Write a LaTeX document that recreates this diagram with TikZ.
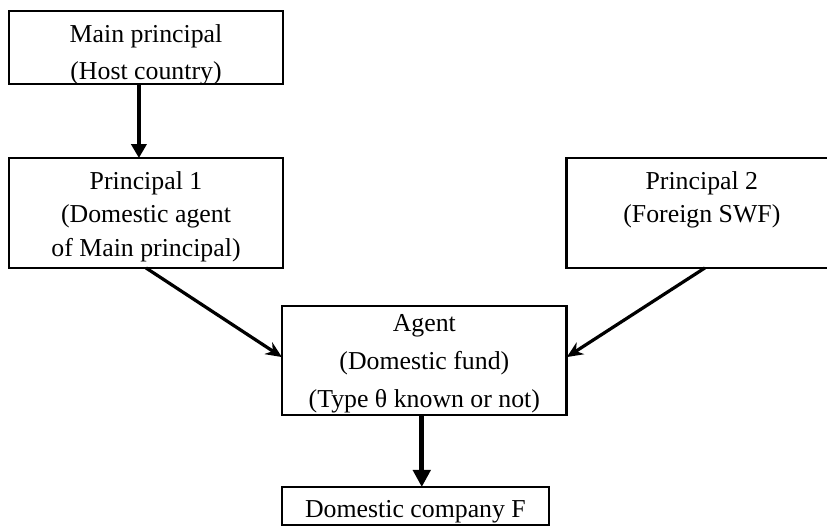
\documentclass[tikz,border=0pt]{standalone}
\usepackage{fontspec}
\setmainfont{Liberation Serif}
\usetikzlibrary{positioning,arrows.meta}
\begin{document}
\begin{tikzpicture}[line width=1.5pt,
            box/.style={draw,line width=1.3pt,inner sep=0pt,outer sep=0pt,align=center,
              font=\fontsize{12}{15.8}\selectfont},
            wide/.style={font=\fontsize{12}{17.5}\selectfont}]

        % Define vertices
        \node[box,wide,minimum width=127.4pt,text height=32.1pt,text depth=1.9pt] (main) {Main principal\\(Host country)};
        \node[box,minimum width=127.4pt,text height=46pt,text depth=5.1pt] (p1) [below=34.4pt of main] {Principal 1\\(Domestic agent\\of Main principal)};
        \node[box,minimum width=125.6pt,text height=30.2pt,text depth=20.9pt] (p2) [right=132pt of p1] {Principal 2\\(Foreign SWF)};
        \node[box,wide,minimum width=132.5pt,text height=47pt,text depth=3.7pt] (agent) [below right=17.7pt and -0.5pt of p1.south east] {Agent\\(Domestic fund)\\(Type θ known or not)};
        \node[box,minimum width=124.2pt,text height=14pt,text depth=3.7pt] (firm) [below right=33.5pt and 0pt of agent.south west] {Domestic company F};

        % Principal 2 runs past the right edge
        \pgfresetboundingbox
        \useasboundingbox ([shift={(-4.2pt,5.1pt)}]main.north west) rectangle ++(384.6pt,-244.6pt);

        % Draw edges
        \path
            ([xshift=-3.3pt]main.south) edge[line width=1.8pt,-{Triangle[width=7pt,length=6.5pt]}] ([xshift=-3.3pt]p1.north)
            (p1.south) edge[-{Stealth[width=6.5pt,length=7.5pt]}] ([yshift=1.6pt]agent.west)
            ([xshift=1.4pt]p2.south) edge[-{Stealth[width=6.5pt,length=7.5pt]}] ([yshift=1.6pt]agent.east)
            ([xshift=-1.2pt]agent.south) edge[line width=2.4pt,-{Triangle[width=8pt,length=8pt]}] ([xshift=-1.2pt]agent.south |- firm.north);

        \end{tikzpicture}
\end{document}
